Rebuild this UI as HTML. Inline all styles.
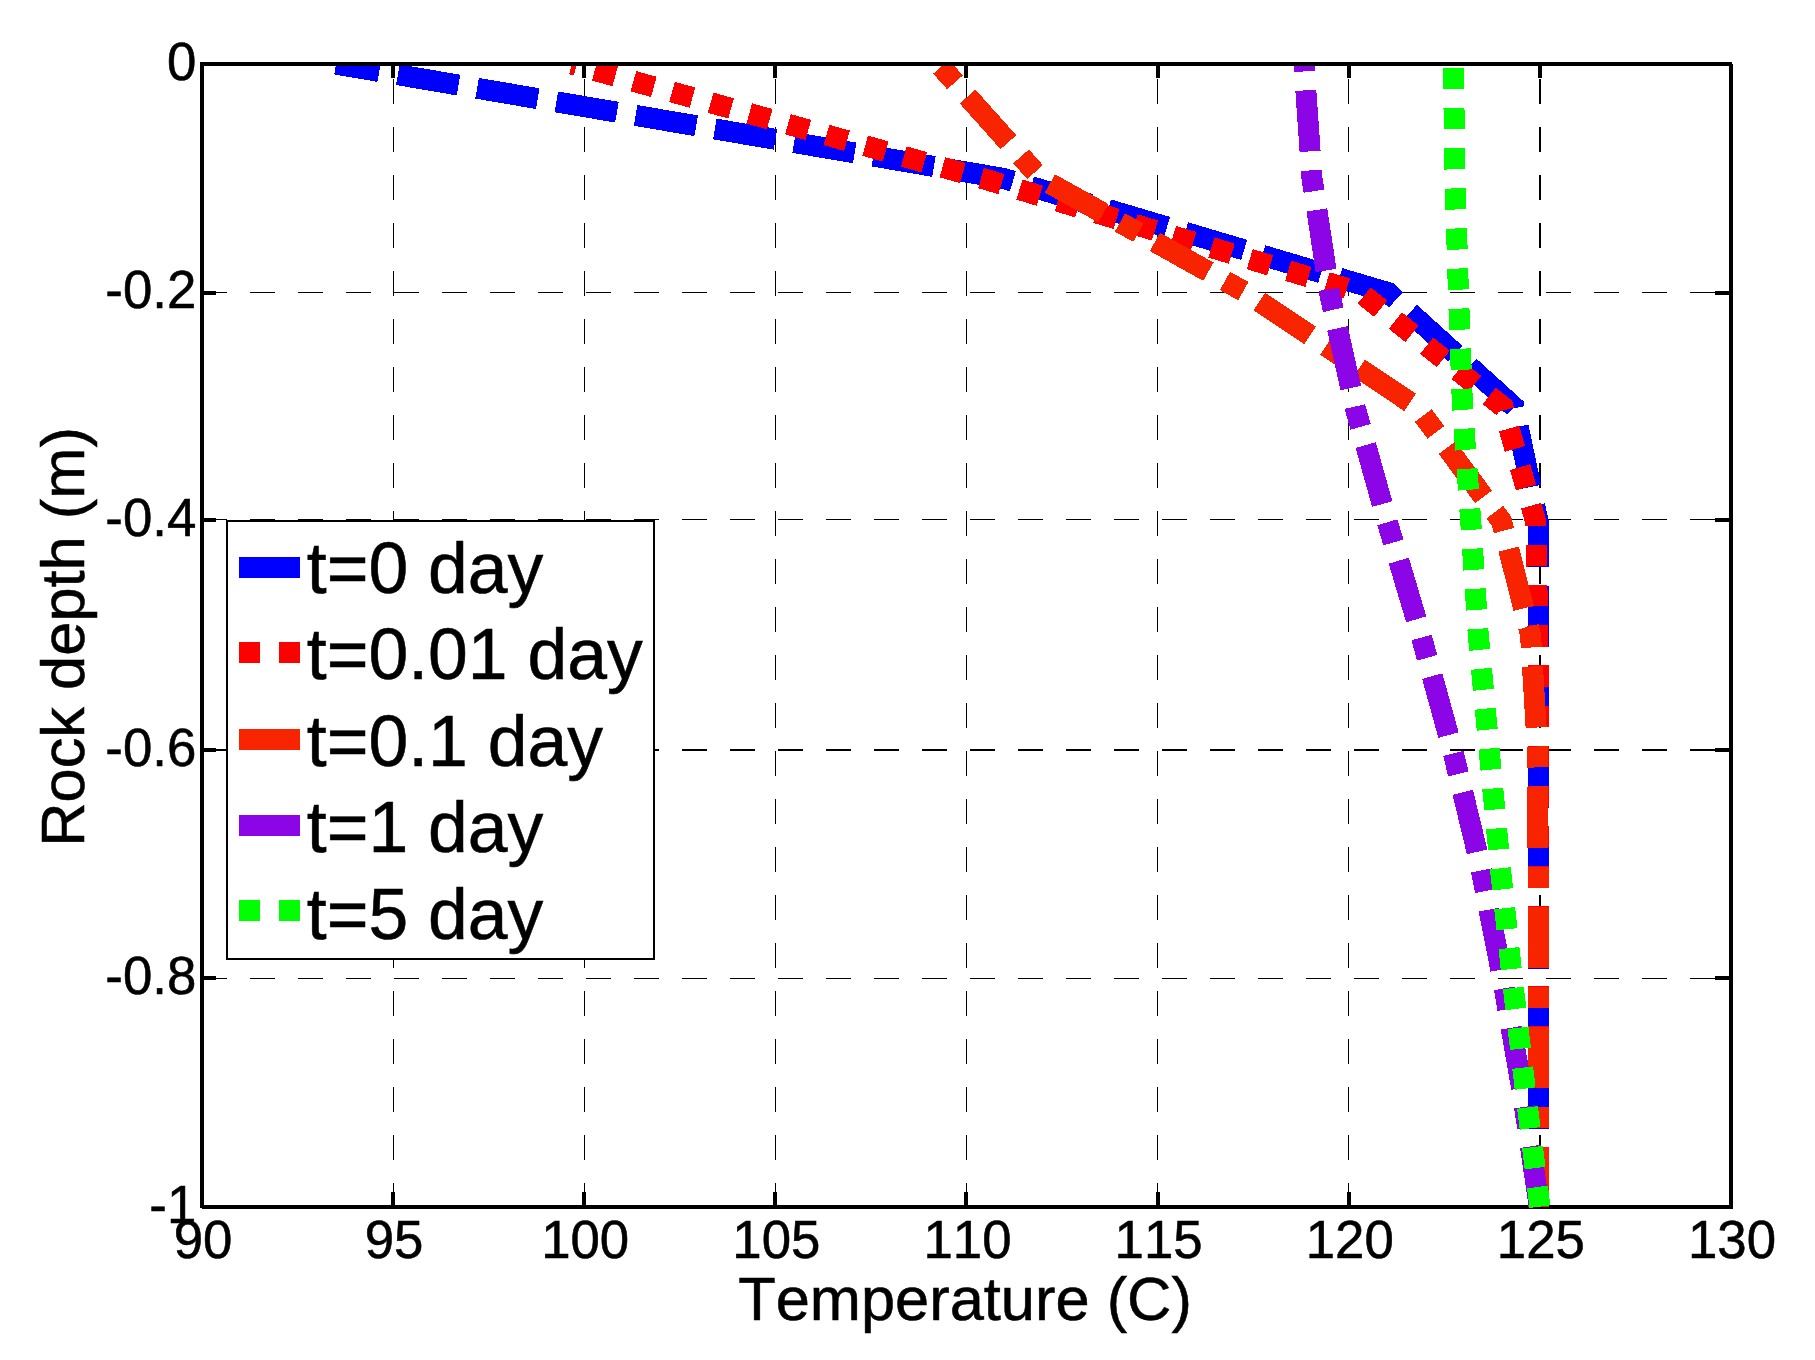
<!DOCTYPE html>
<html><head><meta charset="utf-8"><title>Rock temperature profile</title>
<style>
html,body{margin:0;padding:0;background:#fff;}
body{width:1815px;height:1360px;overflow:hidden;}
svg{display:block;}
text{stroke:#000;stroke-width:0.55px;font-kerning:none;font-family:"Liberation Sans",Arial,Helvetica,sans-serif;fill:#000;}
.tick{font-size:52.8px;}
.lab{font-size:61.4px;}
.leg{font-size:71.5px;}
</style></head><body>
<svg width="1815" height="1360" viewBox="0 0 1815 1360">
<defs><clipPath id="clip"><rect x="204" y="66" width="1525" height="1142"/></clipPath></defs>
<rect x="0" y="0" width="1815" height="1360" fill="#fff"/>

<g fill="#000" shape-rendering="crispEdges">
<rect x="393" y="1183" width="1" height="25"/><rect x="393" y="1135" width="1" height="25"/><rect x="393" y="1087" width="1" height="25"/><rect x="393" y="1039" width="1" height="25"/><rect x="393" y="991" width="1" height="25"/><rect x="393" y="943" width="1" height="25"/><rect x="393" y="895" width="1" height="25"/><rect x="393" y="847" width="1" height="25"/><rect x="393" y="799" width="1" height="25"/><rect x="393" y="751" width="1" height="25"/><rect x="393" y="703" width="1" height="25"/><rect x="393" y="655" width="1" height="25"/><rect x="393" y="607" width="1" height="25"/><rect x="393" y="559" width="1" height="25"/><rect x="393" y="511" width="1" height="25"/><rect x="393" y="463" width="1" height="25"/><rect x="393" y="415" width="1" height="25"/><rect x="393" y="367" width="1" height="25"/><rect x="393" y="319" width="1" height="25"/><rect x="393" y="271" width="1" height="25"/><rect x="393" y="223" width="1" height="25"/><rect x="393" y="175" width="1" height="25"/><rect x="393" y="127" width="1" height="25"/><rect x="393" y="79" width="1" height="25"/>
<rect x="584" y="1183" width="1" height="25"/><rect x="584" y="1135" width="1" height="25"/><rect x="584" y="1087" width="1" height="25"/><rect x="584" y="1039" width="1" height="25"/><rect x="584" y="991" width="1" height="25"/><rect x="584" y="943" width="1" height="25"/><rect x="584" y="895" width="1" height="25"/><rect x="584" y="847" width="1" height="25"/><rect x="584" y="799" width="1" height="25"/><rect x="584" y="751" width="1" height="25"/><rect x="584" y="703" width="1" height="25"/><rect x="584" y="655" width="1" height="25"/><rect x="584" y="607" width="1" height="25"/><rect x="584" y="559" width="1" height="25"/><rect x="584" y="511" width="1" height="25"/><rect x="584" y="463" width="1" height="25"/><rect x="584" y="415" width="1" height="25"/><rect x="584" y="367" width="1" height="25"/><rect x="584" y="319" width="1" height="25"/><rect x="584" y="271" width="1" height="25"/><rect x="584" y="223" width="1" height="25"/><rect x="584" y="175" width="1" height="25"/><rect x="584" y="127" width="1" height="25"/><rect x="584" y="79" width="1" height="25"/>
<rect x="775" y="1183" width="1" height="25"/><rect x="775" y="1135" width="1" height="25"/><rect x="775" y="1087" width="1" height="25"/><rect x="775" y="1039" width="1" height="25"/><rect x="775" y="991" width="1" height="25"/><rect x="775" y="943" width="1" height="25"/><rect x="775" y="895" width="1" height="25"/><rect x="775" y="847" width="1" height="25"/><rect x="775" y="799" width="1" height="25"/><rect x="775" y="751" width="1" height="25"/><rect x="775" y="703" width="1" height="25"/><rect x="775" y="655" width="1" height="25"/><rect x="775" y="607" width="1" height="25"/><rect x="775" y="559" width="1" height="25"/><rect x="775" y="511" width="1" height="25"/><rect x="775" y="463" width="1" height="25"/><rect x="775" y="415" width="1" height="25"/><rect x="775" y="367" width="1" height="25"/><rect x="775" y="319" width="1" height="25"/><rect x="775" y="271" width="1" height="25"/><rect x="775" y="223" width="1" height="25"/><rect x="775" y="175" width="1" height="25"/><rect x="775" y="127" width="1" height="25"/><rect x="775" y="79" width="1" height="25"/>
<rect x="966" y="1183" width="1" height="25"/><rect x="966" y="1135" width="1" height="25"/><rect x="966" y="1087" width="1" height="25"/><rect x="966" y="1039" width="1" height="25"/><rect x="966" y="991" width="1" height="25"/><rect x="966" y="943" width="1" height="25"/><rect x="966" y="895" width="1" height="25"/><rect x="966" y="847" width="1" height="25"/><rect x="966" y="799" width="1" height="25"/><rect x="966" y="751" width="1" height="25"/><rect x="966" y="703" width="1" height="25"/><rect x="966" y="655" width="1" height="25"/><rect x="966" y="607" width="1" height="25"/><rect x="966" y="559" width="1" height="25"/><rect x="966" y="511" width="1" height="25"/><rect x="966" y="463" width="1" height="25"/><rect x="966" y="415" width="1" height="25"/><rect x="966" y="367" width="1" height="25"/><rect x="966" y="319" width="1" height="25"/><rect x="966" y="271" width="1" height="25"/><rect x="966" y="223" width="1" height="25"/><rect x="966" y="175" width="1" height="25"/><rect x="966" y="127" width="1" height="25"/><rect x="966" y="79" width="1" height="25"/>
<rect x="1157" y="1183" width="1" height="25"/><rect x="1157" y="1135" width="1" height="25"/><rect x="1157" y="1087" width="1" height="25"/><rect x="1157" y="1039" width="1" height="25"/><rect x="1157" y="991" width="1" height="25"/><rect x="1157" y="943" width="1" height="25"/><rect x="1157" y="895" width="1" height="25"/><rect x="1157" y="847" width="1" height="25"/><rect x="1157" y="799" width="1" height="25"/><rect x="1157" y="751" width="1" height="25"/><rect x="1157" y="703" width="1" height="25"/><rect x="1157" y="655" width="1" height="25"/><rect x="1157" y="607" width="1" height="25"/><rect x="1157" y="559" width="1" height="25"/><rect x="1157" y="511" width="1" height="25"/><rect x="1157" y="463" width="1" height="25"/><rect x="1157" y="415" width="1" height="25"/><rect x="1157" y="367" width="1" height="25"/><rect x="1157" y="319" width="1" height="25"/><rect x="1157" y="271" width="1" height="25"/><rect x="1157" y="223" width="1" height="25"/><rect x="1157" y="175" width="1" height="25"/><rect x="1157" y="127" width="1" height="25"/><rect x="1157" y="79" width="1" height="25"/>
<rect x="1348" y="1183" width="1" height="25"/><rect x="1348" y="1135" width="1" height="25"/><rect x="1348" y="1087" width="1" height="25"/><rect x="1348" y="1039" width="1" height="25"/><rect x="1348" y="991" width="1" height="25"/><rect x="1348" y="943" width="1" height="25"/><rect x="1348" y="895" width="1" height="25"/><rect x="1348" y="847" width="1" height="25"/><rect x="1348" y="799" width="1" height="25"/><rect x="1348" y="751" width="1" height="25"/><rect x="1348" y="703" width="1" height="25"/><rect x="1348" y="655" width="1" height="25"/><rect x="1348" y="607" width="1" height="25"/><rect x="1348" y="559" width="1" height="25"/><rect x="1348" y="511" width="1" height="25"/><rect x="1348" y="463" width="1" height="25"/><rect x="1348" y="415" width="1" height="25"/><rect x="1348" y="367" width="1" height="25"/><rect x="1348" y="319" width="1" height="25"/><rect x="1348" y="271" width="1" height="25"/><rect x="1348" y="223" width="1" height="25"/><rect x="1348" y="175" width="1" height="25"/><rect x="1348" y="127" width="1" height="25"/><rect x="1348" y="79" width="1" height="25"/>
<rect x="1539" y="1183" width="2" height="25"/><rect x="1539" y="1135" width="2" height="25"/><rect x="1539" y="1087" width="2" height="25"/><rect x="1539" y="1039" width="2" height="25"/><rect x="1539" y="991" width="2" height="25"/><rect x="1539" y="943" width="2" height="25"/><rect x="1539" y="895" width="2" height="25"/><rect x="1539" y="847" width="2" height="25"/><rect x="1539" y="799" width="2" height="25"/><rect x="1539" y="751" width="2" height="25"/><rect x="1539" y="703" width="2" height="25"/><rect x="1539" y="655" width="2" height="25"/><rect x="1539" y="607" width="2" height="25"/><rect x="1539" y="559" width="2" height="25"/><rect x="1539" y="511" width="2" height="25"/><rect x="1539" y="463" width="2" height="25"/><rect x="1539" y="415" width="2" height="25"/><rect x="1539" y="367" width="2" height="25"/><rect x="1539" y="319" width="2" height="25"/><rect x="1539" y="271" width="2" height="25"/><rect x="1539" y="223" width="2" height="25"/><rect x="1539" y="175" width="2" height="25"/><rect x="1539" y="127" width="2" height="25"/><rect x="1539" y="79" width="2" height="25"/>
<rect x="202" y="292" width="25" height="1"/><rect x="250" y="292" width="25" height="1"/><rect x="298" y="292" width="25" height="1"/><rect x="346" y="292" width="25" height="1"/><rect x="394" y="292" width="25" height="1"/><rect x="442" y="292" width="25" height="1"/><rect x="490" y="292" width="25" height="1"/><rect x="538" y="292" width="25" height="1"/><rect x="586" y="292" width="25" height="1"/><rect x="634" y="292" width="25" height="1"/><rect x="682" y="292" width="25" height="1"/><rect x="730" y="292" width="25" height="1"/><rect x="778" y="292" width="25" height="1"/><rect x="826" y="292" width="25" height="1"/><rect x="874" y="292" width="25" height="1"/><rect x="922" y="292" width="25" height="1"/><rect x="970" y="292" width="25" height="1"/><rect x="1018" y="292" width="25" height="1"/><rect x="1066" y="292" width="25" height="1"/><rect x="1114" y="292" width="25" height="1"/><rect x="1162" y="292" width="25" height="1"/><rect x="1210" y="292" width="25" height="1"/><rect x="1258" y="292" width="25" height="1"/><rect x="1306" y="292" width="25" height="1"/><rect x="1354" y="292" width="25" height="1"/><rect x="1402" y="292" width="25" height="1"/><rect x="1450" y="292" width="25" height="1"/><rect x="1498" y="292" width="25" height="1"/><rect x="1546" y="292" width="25" height="1"/><rect x="1594" y="292" width="25" height="1"/><rect x="1642" y="292" width="25" height="1"/><rect x="1690" y="292" width="25" height="1"/>
<rect x="202" y="519" width="25" height="1"/><rect x="250" y="519" width="25" height="1"/><rect x="298" y="519" width="25" height="1"/><rect x="346" y="519" width="25" height="1"/><rect x="394" y="519" width="25" height="1"/><rect x="442" y="519" width="25" height="1"/><rect x="490" y="519" width="25" height="1"/><rect x="538" y="519" width="25" height="1"/><rect x="586" y="519" width="25" height="1"/><rect x="634" y="519" width="25" height="1"/><rect x="682" y="519" width="25" height="1"/><rect x="730" y="519" width="25" height="1"/><rect x="778" y="519" width="25" height="1"/><rect x="826" y="519" width="25" height="1"/><rect x="874" y="519" width="25" height="1"/><rect x="922" y="519" width="25" height="1"/><rect x="970" y="519" width="25" height="1"/><rect x="1018" y="519" width="25" height="1"/><rect x="1066" y="519" width="25" height="1"/><rect x="1114" y="519" width="25" height="1"/><rect x="1162" y="519" width="25" height="1"/><rect x="1210" y="519" width="25" height="1"/><rect x="1258" y="519" width="25" height="1"/><rect x="1306" y="519" width="25" height="1"/><rect x="1354" y="519" width="25" height="1"/><rect x="1402" y="519" width="25" height="1"/><rect x="1450" y="519" width="25" height="1"/><rect x="1498" y="519" width="25" height="1"/><rect x="1546" y="519" width="25" height="1"/><rect x="1594" y="519" width="25" height="1"/><rect x="1642" y="519" width="25" height="1"/><rect x="1690" y="519" width="25" height="1"/>
<rect x="202" y="749" width="25" height="2"/><rect x="250" y="749" width="25" height="2"/><rect x="298" y="749" width="25" height="2"/><rect x="346" y="749" width="25" height="2"/><rect x="394" y="749" width="25" height="2"/><rect x="442" y="749" width="25" height="2"/><rect x="490" y="749" width="25" height="2"/><rect x="538" y="749" width="25" height="2"/><rect x="586" y="749" width="25" height="2"/><rect x="634" y="749" width="25" height="2"/><rect x="682" y="749" width="25" height="2"/><rect x="730" y="749" width="25" height="2"/><rect x="778" y="749" width="25" height="2"/><rect x="826" y="749" width="25" height="2"/><rect x="874" y="749" width="25" height="2"/><rect x="922" y="749" width="25" height="2"/><rect x="970" y="749" width="25" height="2"/><rect x="1018" y="749" width="25" height="2"/><rect x="1066" y="749" width="25" height="2"/><rect x="1114" y="749" width="25" height="2"/><rect x="1162" y="749" width="25" height="2"/><rect x="1210" y="749" width="25" height="2"/><rect x="1258" y="749" width="25" height="2"/><rect x="1306" y="749" width="25" height="2"/><rect x="1354" y="749" width="25" height="2"/><rect x="1402" y="749" width="25" height="2"/><rect x="1450" y="749" width="25" height="2"/><rect x="1498" y="749" width="25" height="2"/><rect x="1546" y="749" width="25" height="2"/><rect x="1594" y="749" width="25" height="2"/><rect x="1642" y="749" width="25" height="2"/><rect x="1690" y="749" width="25" height="2"/>
<rect x="202" y="978" width="25" height="1"/><rect x="250" y="978" width="25" height="1"/><rect x="298" y="978" width="25" height="1"/><rect x="346" y="978" width="25" height="1"/><rect x="394" y="978" width="25" height="1"/><rect x="442" y="978" width="25" height="1"/><rect x="490" y="978" width="25" height="1"/><rect x="538" y="978" width="25" height="1"/><rect x="586" y="978" width="25" height="1"/><rect x="634" y="978" width="25" height="1"/><rect x="682" y="978" width="25" height="1"/><rect x="730" y="978" width="25" height="1"/><rect x="778" y="978" width="25" height="1"/><rect x="826" y="978" width="25" height="1"/><rect x="874" y="978" width="25" height="1"/><rect x="922" y="978" width="25" height="1"/><rect x="970" y="978" width="25" height="1"/><rect x="1018" y="978" width="25" height="1"/><rect x="1066" y="978" width="25" height="1"/><rect x="1114" y="978" width="25" height="1"/><rect x="1162" y="978" width="25" height="1"/><rect x="1210" y="978" width="25" height="1"/><rect x="1258" y="978" width="25" height="1"/><rect x="1306" y="978" width="25" height="1"/><rect x="1354" y="978" width="25" height="1"/><rect x="1402" y="978" width="25" height="1"/><rect x="1450" y="978" width="25" height="1"/><rect x="1498" y="978" width="25" height="1"/><rect x="1546" y="978" width="25" height="1"/><rect x="1594" y="978" width="25" height="1"/><rect x="1642" y="978" width="25" height="1"/><rect x="1690" y="978" width="25" height="1"/>
</g>
<g fill="#000" shape-rendering="crispEdges">
<rect x="200" y="62" width="1532" height="4"/>
<rect x="202" y="1205" width="1531" height="4"/>
<rect x="200" y="62" width="4" height="1146"/>
<rect x="1729" y="64" width="4" height="1145"/>
<rect x="391" y="66" width="4" height="12"/>
<rect x="391" y="1192" width="4" height="13"/>
<rect x="582" y="66" width="4" height="12"/>
<rect x="582" y="1192" width="4" height="13"/>
<rect x="773" y="66" width="4" height="12"/>
<rect x="773" y="1192" width="4" height="13"/>
<rect x="964" y="66" width="4" height="12"/>
<rect x="964" y="1192" width="4" height="13"/>
<rect x="1156" y="66" width="4" height="12"/>
<rect x="1156" y="1192" width="4" height="13"/>
<rect x="1347" y="66" width="4" height="12"/>
<rect x="1347" y="1192" width="4" height="13"/>
<rect x="1538" y="66" width="4" height="12"/>
<rect x="1538" y="1192" width="4" height="13"/>
<rect x="204" y="291" width="12" height="4"/>
<rect x="1715" y="291" width="14" height="4"/>
<rect x="204" y="518" width="12" height="4"/>
<rect x="1715" y="518" width="14" height="4"/>
<rect x="204" y="748" width="12" height="4"/>
<rect x="1715" y="748" width="14" height="4"/>
<rect x="204" y="976" width="12" height="4"/>
<rect x="1715" y="976" width="14" height="4"/>
</g>
<g clip-path="url(#clip)" fill="none" stroke-linejoin="miter" stroke-linecap="butt" shape-rendering="crispEdges">
<polyline points="336.0,64.1 1003.0,178.3 1388.0,292.6 1514.0,406.9 1538.0,521.1 1538.0,635.4 1538.0,749.6 1538.0,863.9 1538.0,978.1 1538.0,1092.3 1538.0,1206.6" stroke="#0000ff" stroke-width="21" stroke-dasharray="61.5 18.9" stroke-dashoffset="17.67"/>
<polyline points="572.0,64.1 982.0,178.3 1360.5,292.6 1503.0,406.9 1535.5,521.1 1538.0,635.4 1538.0,749.6 1538.0,863.9 1538.0,978.1 1538.0,1092.3 1538.0,1206.6" stroke="#ff0000" stroke-width="21" stroke-dasharray="21.2 18.9" stroke-dashoffset="16.46"/>
<polyline points="938.7,64.1 1040.6,178.3 1246.0,292.6 1417.0,406.9 1501.5,521.1 1530.6,635.4 1537.5,749.6 1538.0,863.9 1538.0,978.1 1538.0,1092.3 1538.0,1206.6" stroke="#f82400" stroke-width="21" stroke-dasharray="61.2 19 21 19" stroke-dashoffset="76.7"/>
<polyline points="1304.0,64.1 1312.0,178.3 1329.5,292.6 1355.0,406.9 1387.0,521.1 1421.0,635.4 1452.5,749.6 1480.0,863.9 1502.5,978.1 1522.4,1092.3 1539.3,1206.6" stroke="#8c05e6" stroke-width="21" stroke-dasharray="61.2 19 21 19" stroke-dashoffset="93.9"/>
<polyline points="1453.3,64.1 1455.1,178.3 1458.4,292.6 1462.5,406.9 1470.7,521.1 1478.3,635.4 1489.1,749.6 1499.9,863.9 1512.2,978.1 1525.6,1092.3 1539.9,1206.6" stroke="#00ff00" stroke-width="21" stroke-dasharray="21.1 19" stroke-dashoffset="36.1"/>
</g>
<text class="tick" x="203.0" y="1258.3" text-anchor="middle">90</text>
<text class="tick" x="394.1" y="1258.3" text-anchor="middle">95</text>
<text class="tick" x="585.2" y="1258.3" text-anchor="middle">100</text>
<text class="tick" x="776.4" y="1258.3" text-anchor="middle">105</text>
<text class="tick" x="967.5" y="1258.3" text-anchor="middle">110</text>
<text class="tick" x="1158.6" y="1258.3" text-anchor="middle">115</text>
<text class="tick" x="1349.8" y="1258.3" text-anchor="middle">120</text>
<text class="tick" x="1540.9" y="1258.3" text-anchor="middle">125</text>
<text class="tick" x="1732.0" y="1258.3" text-anchor="middle">130</text>
<text class="tick" x="196.3" y="79.5" text-anchor="end">0</text>
<text class="tick" x="196.3" y="308.1" text-anchor="end">-0.2</text>
<text class="tick" x="196.3" y="535.5" text-anchor="end">-0.4</text>
<text class="tick" x="196.3" y="765.5" text-anchor="end">-0.6</text>
<text class="tick" x="196.3" y="993.9" text-anchor="end">-0.8</text>
<text class="tick" x="196.3" y="1222.5" text-anchor="end">-1</text>
<text class="lab" x="965" y="1320" text-anchor="middle">Temperature (C)</text>
<text class="lab" transform="translate(83.5,637) rotate(-90)" text-anchor="middle">Rock depth (m)</text>
<rect x="227" y="521" width="427" height="437.5" fill="#fff" stroke="#000" stroke-width="2" shape-rendering="crispEdges"/>
<rect x="239" y="557" width="61" height="21" fill="#0000ff" shape-rendering="crispEdges"/>
<text class="leg" x="306.8" y="592.9">t=0 day</text>
<rect x="239" y="642" width="21" height="21" fill="#ff0000" shape-rendering="crispEdges"/><rect x="279" y="642" width="21" height="21" fill="#ff0000" shape-rendering="crispEdges"/>
<text class="leg" x="306.8" y="679.3">t=0.01 day</text>
<rect x="239" y="729" width="61" height="21" fill="#f82400" shape-rendering="crispEdges"/>
<text class="leg" x="306.8" y="765.7">t=0.1 day</text>
<rect x="239" y="815" width="61" height="21" fill="#8c05e6" shape-rendering="crispEdges"/>
<text class="leg" x="306.8" y="852.2">t=1 day</text>
<rect x="239" y="900" width="21" height="21" fill="#00ff00" shape-rendering="crispEdges"/><rect x="279" y="900" width="21" height="21" fill="#00ff00" shape-rendering="crispEdges"/>
<text class="leg" x="306.8" y="938.6">t=5 day</text>
</svg></body></html>
